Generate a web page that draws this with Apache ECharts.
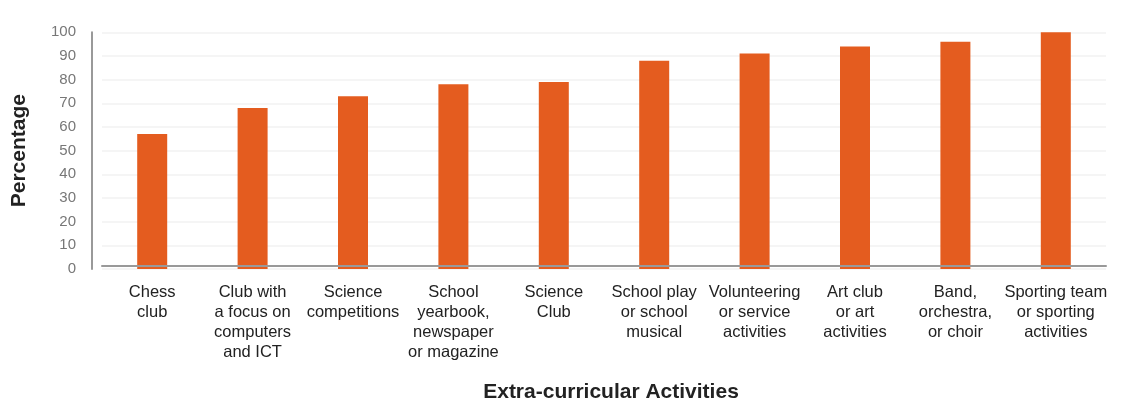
<!DOCTYPE html>
<html>
<head>
<meta charset="utf-8">
<script src="https://cdn.jsdelivr.net/npm/echarts@6/dist/echarts.min.js"></script>
<style>
  html, body { margin: 0; padding: 0; background: #fff; }
  #chart { width: 1134px; height: 399px; }
</style>
</head>
<body>
<div id="chart"></div>
<script>
const categories = [
  "Chess\nclub",
  "Club with\na focus on\ncomputers\nand ICT",
  "Science\ncompetitions",
  "School\nyearbook,\nnewspaper\nor magazine",
  "Science\nClub",
  "School play\nor school\nmusical",
  "Volunteering\nor service\nactivities",
  "Art club\nor art\nactivities",
  "Band,\norchestra,\nor choir",
  "Sporting team\nor sporting\nactivities"
];
const percentages = [57, 68, 73, 78, 79, 88, 91, 94, 96, 100];
const yAxisTitle = "Percentage";
const xAxisTitle = "Extra-curricular Activities";

const chart = echarts.init(document.getElementById('chart'), null, { renderer: 'canvas' });
chart.setOption({
  animation: false,
  backgroundColor: '#fff',
  textStyle: { fontFamily: 'Liberation Sans, Arial, sans-serif' },
  grid: { left: 102, right: 28, top: 32.3, bottom: 130, containLabel: false, outerBoundsMode: 'none' },
  xAxis: {
    type: 'category',
    data: categories,
    offset: -3,
    z: 10,
    axisLine: { show: true, lineStyle: { color: '#999', width: 2 } },
    axisTick: { show: false },
    axisLabel: {
      interval: 0,
      color: '#222',
      fontSize: 16.5,
      lineHeight: 20,
      margin: 16,
      align: 'center'
    },
    name: xAxisTitle,
    nameLocation: 'middle',
    nameGap: 116,
    nameTextStyle: { fontSize: 21, fontWeight: 'bold', color: '#222', padding: [0, 0, 0, 14] }
  },
  yAxis: {
    type: 'value',
    min: 0,
    max: 100,
    interval: 10,
    offset: 10,
    axisLine: { show: true, lineStyle: { color: '#999', width: 2 } },
    axisTick: { show: false },
    axisLabel: { color: '#777', fontSize: 15, margin: 16 },
    splitLine: { show: true, lineStyle: { color: '#f2f2f2', width: 1.5 } },
    name: yAxisTitle,
    nameLocation: 'middle',
    nameGap: 62,
    nameRotate: 90,
    nameTextStyle: { fontSize: 21, fontWeight: 'bold', color: '#222' }
  },
  series: [{
    type: 'bar',
    data: percentages,
    barWidth: 30,
    itemStyle: { color: '#e45c1f' }
  }]
});
</script>
</body>
</html>
